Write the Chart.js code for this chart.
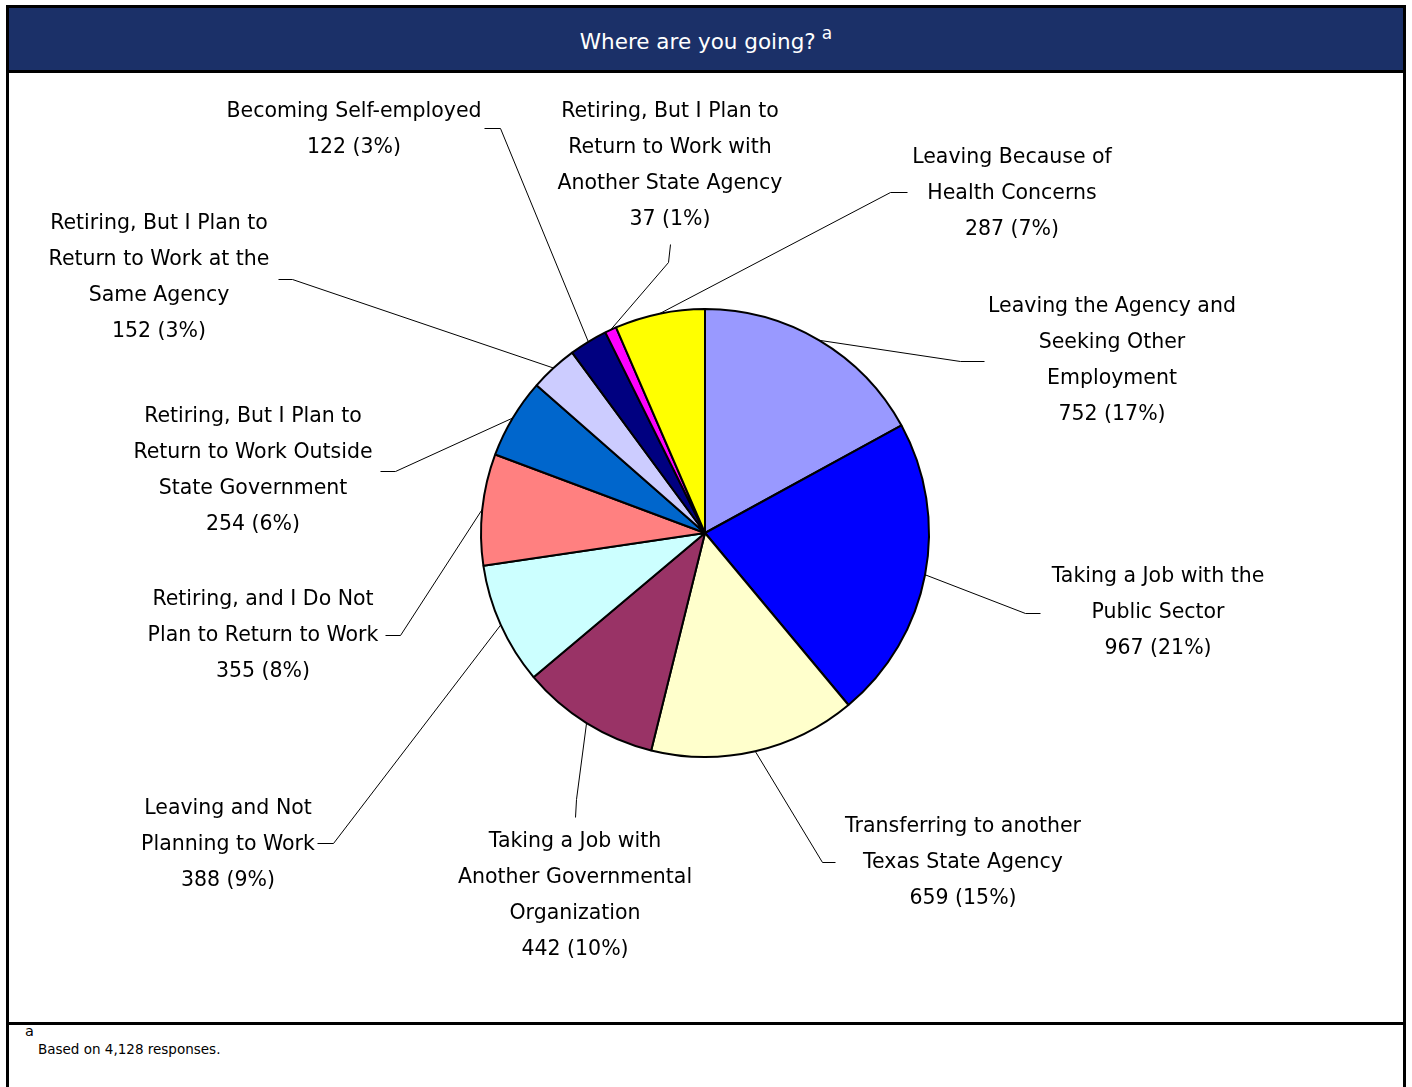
<!DOCTYPE html>
<html lang="en">
<head>
    <meta charset="UTF-8">
    <title>Where are you going?</title>
    <style>
        body {
            margin: 0;
            background: #fff;
            font-family: 'DejaVu Sans', Verdana, sans-serif;
            color: #000;
        }
        .frame {
            position: absolute;
            left: 6px;
            top: 5px;
            width: 1394px;
            height: 1100px;
            border: 3px solid #000;
        }
        .header {
            height: 62px;
            line-height: 68px;
            background: #1b3068;
            border-bottom: 3px solid #000;
            color: #fff;
            font-size: 21.5px;
            text-align: center;
        }
        .header .note {
            position: relative;
            top: -10px;
            margin-left: 6px;
            font-size: 17px;
        }
        .chart-box {
            position: relative;
            height: 949px;
        }
        .footer {
            border-top: 3px solid #000;
            position: relative;
            font-size: 13.5px;
            height: 60px;
        }
        .footer .note {
            position: absolute;
            left: 16px;
            top: -2px;
            font-size: 14.5px;
        }
        .footer .text {
            position: absolute;
            left: 29px;
            top: 16px;
        }
    </style>
</head>
<body>
    <div class="frame">
        <div class="header">Where are you going?<span class="note">a</span></div>
        <div class="chart-box">
            <canvas id="pieChart" width="1394" height="949"></canvas>
        </div>
        <div class="footer">
            <span class="note">a</span>
            <span class="text">Based on 4,128 responses.</span>
        </div>
    </div>

    <script src="https://cdn.jsdelivr.net/npm/chart.js"></script>
    <script>
        // Reasons for leaving, clockwise from 12 o'clock
        const categories = [
            ['Leaving the Agency and', 'Seeking Other', 'Employment'],
            ['Taking a Job with the', 'Public Sector'],
            ['Transferring to another', 'Texas State Agency'],
            ['Taking a Job with', 'Another Governmental', 'Organization'],
            ['Leaving and Not', 'Planning to Work'],
            ['Retiring, and I Do Not', 'Plan to Return to Work'],
            ['Retiring, But I Plan to', 'Return to Work Outside', 'State Government'],
            ['Retiring, But I Plan to', 'Return to Work at the', 'Same Agency'],
            ['Becoming Self-employed'],
            ['Retiring, But I Plan to', 'Return to Work with', 'Another State Agency'],
            ['Leaving Because of', 'Health Concerns']
        ];
        const counts = [752, 967, 659, 442, 388, 355, 254, 152, 122, 37, 287];
        const percents = [17, 21, 15, 10, 9, 8, 6, 3, 3, 1, 7];
        const colors = [
            '#9999ff', '#0000ff', '#ffffcc', '#993366', '#ccffff', '#ff8080',
            '#0066cc', '#ccccff', '#000080', '#ff00ff', '#ffff00'
        ];

        // where each label block sits (canvas px): centre x, first line y,
        // plus the bend and the end of its leader line
        const labelLayout = [
            { x: 1103, y: 234, bend: [951, 288], end: [975, 288] },
            { x: 1149, y: 504, bend: [1016, 540], end: [1031, 540] },
            { x: 954, y: 754, bend: [813, 789], end: [826, 789] },
            { x: 566, y: 769, bend: [567, 726], end: [566, 744] },
            { x: 219, y: 736, bend: [324, 770], end: [308, 770] },
            { x: 254, y: 527, bend: [391, 562], end: [376, 562] },
            { x: 244, y: 344, bend: [386, 398], end: [371, 398] },
            { x: 150, y: 151, bend: [283, 206], end: [269, 206] },
            { x: 345, y: 39, bend: [491, 55], end: [475, 55] },
            { x: 661, y: 39, bend: [659, 189], end: [661, 171] },
            { x: 1003, y: 85, bend: [881, 119], end: [898, 119] }
        ];
        const lineHeight = 36;

        const leaderLabels = {
            id: 'leaderLabels',
            afterDatasetsDraw(chart) {
                const ctx = chart.ctx;
                const arcs = chart.getDatasetMeta(0).data;
                ctx.save();
                ctx.font = '20.5px "DejaVu Sans"';
                ctx.fillStyle = '#000';
                ctx.textAlign = 'center';
                ctx.textBaseline = 'middle';
                ctx.strokeStyle = '#000';
                ctx.lineWidth = 1;
                arcs.forEach((arc, i) => {
                    const p = arc.getProps(['x', 'y', 'startAngle', 'endAngle', 'outerRadius'], true);
                    const mid = (p.startAngle + p.endAngle) / 2;
                    const lay = labelLayout[i];
                    ctx.beginPath();
                    ctx.moveTo(p.x + Math.cos(mid) * p.outerRadius, p.y + Math.sin(mid) * p.outerRadius);
                    ctx.lineTo(lay.bend[0] + 0.5, lay.bend[1] + 0.5);
                    ctx.lineTo(lay.end[0] + 0.5, lay.end[1] + 0.5);
                    ctx.stroke();

                    const lines = categories[i].concat([counts[i] + ' (' + percents[i] + '%)']);
                    lines.forEach((t, k) => ctx.fillText(t, lay.x, lay.y + k * lineHeight));
                });
                ctx.restore();
            }
        };

        new Chart(document.getElementById('pieChart'), {
            type: 'pie',
            data: {
                labels: categories,
                datasets: [{
                    data: counts,
                    backgroundColor: colors,
                    borderColor: '#000',
                    borderWidth: 2,
                    hoverBorderWidth: 2
                }]
            },
            options: {
                responsive: false,
                animation: false,
                layout: { padding: { top: 235, bottom: 264, left: 471, right: 473 } },
                plugins: {
                    legend: { display: false },
                    tooltip: { enabled: false }
                }
            },
            plugins: [leaderLabels]
        });
    </script>
</body>
</html>
